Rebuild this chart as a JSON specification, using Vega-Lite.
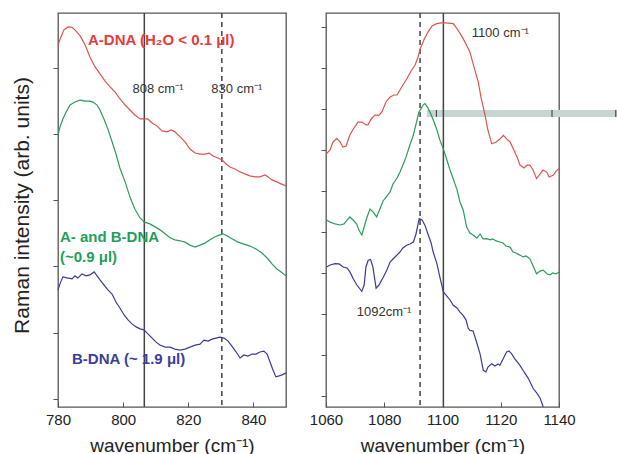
{
  "$schema": "https://vega.github.io/schema/vega-lite/v6.json",
  "autosize": {"type": "pad"},
  "padding": {"left": 10, "top": 11, "right": 0, "bottom": 0},
  "spacing": 18,
  "config": {
    "font": "Liberation Sans",
    "view": {"stroke": "#555", "strokeWidth": 1.3},
    "axis": {
      "grid": false, "domain": false, "tickColor": "#555", "labelColor": "#222", "titleColor": "#222", "labelFlush": false,
      "labelFontSize": 15, "titleFontSize": 19, "titleFontWeight": "normal", "labelFont": "Liberation Sans", "titleFont": "Liberation Sans"
    }
  },
  "datasets": {
    "left": [
      {"w":780,"I":10.93,"s":"A"},{"w":780.6,"I":11.1,"s":"A"},{"w":781.8,"I":11.39,"s":"A"},{"w":783.1,"I":11.48,"s":"A"},{"w":784.3,"I":11.47,"s":"A"},{"w":785.5,"I":11.36,"s":"A"},{"w":786.8,"I":11.21,"s":"A"},{"w":788.3,"I":10.94,"s":"A"},{"w":789.8,"I":10.57,"s":"A"},{"w":791.4,"I":10.27,"s":"A"},{"w":792.9,"I":10.06,"s":"A"},{"w":794.4,"I":9.85,"s":"A"},{"w":796,"I":9.67,"s":"A"},{"w":797.5,"I":9.52,"s":"A"},{"w":799,"I":9.31,"s":"A"},{"w":800.6,"I":9.12,"s":"A"},{"w":802.1,"I":8.97,"s":"A"},{"w":803.6,"I":8.82,"s":"A"},{"w":805.2,"I":8.7,"s":"A"},{"w":806.4,"I":8.7,"s":"A"},{"w":807.6,"I":8.7,"s":"A"},{"w":808.9,"I":8.58,"s":"A"},{"w":810.4,"I":8.49,"s":"A"},{"w":811.9,"I":8.34,"s":"A"},{"w":813.5,"I":8.31,"s":"A"},{"w":814.7,"I":8.37,"s":"A"},{"w":815.9,"I":8.31,"s":"A"},{"w":817.5,"I":8.16,"s":"A"},{"w":819,"I":8.01,"s":"A"},{"w":820.5,"I":7.79,"s":"A"},{"w":822.1,"I":7.67,"s":"A"},{"w":823.6,"I":7.64,"s":"A"},{"w":825.1,"I":7.64,"s":"A"},{"w":826.4,"I":7.67,"s":"A"},{"w":827.6,"I":7.58,"s":"A"},{"w":829.1,"I":7.52,"s":"A"},{"w":830.4,"I":7.46,"s":"A"},{"w":831.6,"I":7.34,"s":"A"},{"w":832.8,"I":7.25,"s":"A"},{"w":834.3,"I":7.19,"s":"A"},{"w":835.9,"I":7.1,"s":"A"},{"w":837.4,"I":7.04,"s":"A"},{"w":838.9,"I":6.98,"s":"A"},{"w":840.5,"I":6.95,"s":"A"},{"w":842,"I":6.95,"s":"A"},{"w":843.6,"I":7.01,"s":"A"},{"w":844.5,"I":6.95,"s":"A"},{"w":845.7,"I":6.86,"s":"A"},{"w":847.2,"I":6.8,"s":"A"},{"w":848.5,"I":6.74,"s":"A"},{"w":850,"I":6.68,"s":"A"},
      {"w":780,"I":8.22,"s":"AB"},{"w":780.6,"I":8.46,"s":"AB"},{"w":781.5,"I":8.7,"s":"AB"},{"w":782.5,"I":8.91,"s":"AB"},{"w":783.7,"I":9.12,"s":"AB"},{"w":785.2,"I":9.21,"s":"AB"},{"w":786.8,"I":9.27,"s":"AB"},{"w":788.3,"I":9.24,"s":"AB"},{"w":789.8,"I":9.24,"s":"AB"},{"w":790.7,"I":9.21,"s":"AB"},{"w":792,"I":9.12,"s":"AB"},{"w":792.9,"I":8.97,"s":"AB"},{"w":794.1,"I":8.7,"s":"AB"},{"w":795.4,"I":8.37,"s":"AB"},{"w":796.6,"I":8.01,"s":"AB"},{"w":797.8,"I":7.64,"s":"AB"},{"w":799,"I":7.22,"s":"AB"},{"w":800.6,"I":6.8,"s":"AB"},{"w":802.1,"I":6.34,"s":"AB"},{"w":803.6,"I":5.98,"s":"AB"},{"w":805.2,"I":5.71,"s":"AB"},{"w":806.4,"I":5.59,"s":"AB"},{"w":808.2,"I":5.53,"s":"AB"},{"w":809.8,"I":5.44,"s":"AB"},{"w":811.3,"I":5.35,"s":"AB"},{"w":812.9,"I":5.23,"s":"AB"},{"w":814.4,"I":5.11,"s":"AB"},{"w":815.9,"I":5.05,"s":"AB"},{"w":817.5,"I":5.02,"s":"AB"},{"w":819,"I":4.98,"s":"AB"},{"w":820.5,"I":4.89,"s":"AB"},{"w":822.1,"I":4.83,"s":"AB"},{"w":823.6,"I":4.89,"s":"AB"},{"w":825.1,"I":4.95,"s":"AB"},{"w":826.7,"I":5.05,"s":"AB"},{"w":828.2,"I":5.14,"s":"AB"},{"w":829.7,"I":5.2,"s":"AB"},{"w":830.7,"I":5.23,"s":"AB"},{"w":831.9,"I":5.17,"s":"AB"},{"w":833.4,"I":5.08,"s":"AB"},{"w":835.3,"I":4.98,"s":"AB"},{"w":837.1,"I":4.92,"s":"AB"},{"w":839,"I":4.86,"s":"AB"},{"w":840.8,"I":4.77,"s":"AB"},{"w":842.6,"I":4.65,"s":"AB"},{"w":844.2,"I":4.5,"s":"AB"},{"w":845.7,"I":4.32,"s":"AB"},{"w":847.2,"I":4.17,"s":"AB"},{"w":848.5,"I":4.08,"s":"AB"},{"w":850,"I":3.96,"s":"AB"},
      {"w":780,"I":3.53,"s":"B"},{"w":780.6,"I":3.72,"s":"B"},{"w":781.5,"I":3.93,"s":"B"},{"w":782.8,"I":3.9,"s":"B"},{"w":784.3,"I":3.87,"s":"B"},{"w":785.2,"I":3.96,"s":"B"},{"w":786.1,"I":3.9,"s":"B"},{"w":787.4,"I":4.02,"s":"B"},{"w":788.6,"I":3.96,"s":"B"},{"w":789.8,"I":3.99,"s":"B"},{"w":791.1,"I":4.08,"s":"B"},{"w":792,"I":3.96,"s":"B"},{"w":792.9,"I":3.84,"s":"B"},{"w":794.1,"I":3.69,"s":"B"},{"w":795.4,"I":3.53,"s":"B"},{"w":796.6,"I":3.41,"s":"B"},{"w":797.8,"I":3.17,"s":"B"},{"w":799,"I":2.99,"s":"B"},{"w":800.3,"I":2.78,"s":"B"},{"w":801.5,"I":2.63,"s":"B"},{"w":802.7,"I":2.51,"s":"B"},{"w":804,"I":2.42,"s":"B"},{"w":805.2,"I":2.36,"s":"B"},{"w":806.4,"I":2.33,"s":"B"},{"w":807.6,"I":2.21,"s":"B"},{"w":808.9,"I":2.08,"s":"B"},{"w":810.1,"I":1.96,"s":"B"},{"w":811.3,"I":1.87,"s":"B"},{"w":812.9,"I":1.81,"s":"B"},{"w":814.4,"I":1.81,"s":"B"},{"w":815.9,"I":1.75,"s":"B"},{"w":817.5,"I":1.72,"s":"B"},{"w":819,"I":1.75,"s":"B"},{"w":820.5,"I":1.81,"s":"B"},{"w":822.1,"I":1.87,"s":"B"},{"w":823.6,"I":1.9,"s":"B"},{"w":824.8,"I":2.02,"s":"B"},{"w":826.1,"I":1.99,"s":"B"},{"w":827.3,"I":2.05,"s":"B"},{"w":828.5,"I":2.08,"s":"B"},{"w":829.7,"I":2.11,"s":"B"},{"w":831,"I":2.08,"s":"B"},{"w":832.2,"I":1.99,"s":"B"},{"w":833.4,"I":1.84,"s":"B"},{"w":834.7,"I":1.66,"s":"B"},{"w":835.9,"I":1.48,"s":"B"},{"w":837.1,"I":1.57,"s":"B"},{"w":838.3,"I":1.54,"s":"B"},{"w":839.6,"I":1.6,"s":"B"},{"w":840.8,"I":1.6,"s":"B"},{"w":842,"I":1.66,"s":"B"},{"w":843.2,"I":1.69,"s":"B"},{"w":844.2,"I":1.6,"s":"B"},{"w":845.1,"I":1.36,"s":"B"},{"w":846,"I":1.12,"s":"B"},{"w":846.9,"I":0.91,"s":"B"},{"w":847.9,"I":0.94,"s":"B"},{"w":848.8,"I":0.97,"s":"B"},{"w":850,"I":1.03,"s":"B"}
    ],
    "right": [
      {"w":1060.2,"I":12.36,"s":"A"},{"w":1061.4,"I":12.54,"s":"A"},{"w":1062.4,"I":12.93,"s":"A"},{"w":1063.7,"I":13.09,"s":"A"},{"w":1064.8,"I":12.93,"s":"A"},{"w":1065.8,"I":12.68,"s":"A"},{"w":1066.9,"I":12.73,"s":"A"},{"w":1068.2,"I":13.27,"s":"A"},{"w":1069.6,"I":13.61,"s":"A"},{"w":1071,"I":13.9,"s":"A"},{"w":1072.4,"I":13.9,"s":"A"},{"w":1073.7,"I":13.76,"s":"A"},{"w":1074.4,"I":13.76,"s":"A"},{"w":1075.5,"I":14.05,"s":"A"},{"w":1076.8,"I":14.24,"s":"A"},{"w":1078.2,"I":14.24,"s":"A"},{"w":1079.2,"I":14.39,"s":"A"},{"w":1080.6,"I":14.88,"s":"A"},{"w":1082,"I":15.12,"s":"A"},{"w":1083.3,"I":15.22,"s":"A"},{"w":1084.4,"I":15.22,"s":"A"},{"w":1085.8,"I":15.56,"s":"A"},{"w":1087.7,"I":16.0,"s":"A"},{"w":1089.2,"I":16.39,"s":"A"},{"w":1090.6,"I":16.68,"s":"A"},{"w":1091.6,"I":17.07,"s":"A"},{"w":1092.3,"I":17.46,"s":"A"},{"w":1093.6,"I":17.9,"s":"A"},{"w":1095,"I":18.29,"s":"A"},{"w":1096.4,"I":18.59,"s":"A"},{"w":1098,"I":18.7,"s":"A"},{"w":1100.3,"I":18.75,"s":"A"},{"w":1101.9,"I":18.73,"s":"A"},{"w":1103.7,"I":18.7,"s":"A"},{"w":1105.3,"I":18.39,"s":"A"},{"w":1107.1,"I":17.97,"s":"A"},{"w":1108.4,"I":17.61,"s":"A"},{"w":1109.4,"I":17.32,"s":"A"},{"w":1110.8,"I":16.59,"s":"A"},{"w":1112.3,"I":15.85,"s":"A"},{"w":1113.2,"I":15.12,"s":"A"},{"w":1114.6,"I":14.24,"s":"A"},{"w":1115.6,"I":13.51,"s":"A"},{"w":1116.9,"I":12.84,"s":"A"},{"w":1118.4,"I":12.93,"s":"A"},{"w":1119.7,"I":13.07,"s":"A"},{"w":1120.9,"I":13.25,"s":"A"},{"w":1122.1,"I":13.07,"s":"A"},{"w":1123.2,"I":12.93,"s":"A"},{"w":1124.3,"I":12.6,"s":"A"},{"w":1125.6,"I":12.2,"s":"A"},{"w":1126.6,"I":11.8,"s":"A"},{"w":1128,"I":11.66,"s":"A"},{"w":1129,"I":11.8,"s":"A"},{"w":1130,"I":11.8,"s":"A"},{"w":1131.1,"I":11.56,"s":"A"},{"w":1132.3,"I":11.14,"s":"A"},{"w":1133.5,"I":11.37,"s":"A"},{"w":1134.5,"I":11.56,"s":"A"},{"w":1135.8,"I":11.46,"s":"A"},{"w":1136.6,"I":11.22,"s":"A"},{"w":1138.1,"I":11.32,"s":"A"},{"w":1139,"I":11.51,"s":"A"},{"w":1140,"I":11.62,"s":"A"},
      {"w":1060.2,"I":9.12,"s":"AB"},{"w":1061.4,"I":9.02,"s":"AB"},{"w":1063.1,"I":8.93,"s":"AB"},{"w":1064.8,"I":8.88,"s":"AB"},{"w":1066.2,"I":8.93,"s":"AB"},{"w":1067.2,"I":9.12,"s":"AB"},{"w":1068.2,"I":9.27,"s":"AB"},{"w":1069.3,"I":9.12,"s":"AB"},{"w":1070.5,"I":8.94,"s":"AB"},{"w":1071.3,"I":8.63,"s":"AB"},{"w":1072.3,"I":8.39,"s":"AB"},{"w":1073.1,"I":8.78,"s":"AB"},{"w":1074.1,"I":9.27,"s":"AB"},{"w":1075.1,"I":9.66,"s":"AB"},{"w":1076.2,"I":9.51,"s":"AB"},{"w":1077.4,"I":9.27,"s":"AB"},{"w":1078.5,"I":9.66,"s":"AB"},{"w":1079.6,"I":10.05,"s":"AB"},{"w":1080.9,"I":10.29,"s":"AB"},{"w":1082,"I":10.49,"s":"AB"},{"w":1083,"I":10.88,"s":"AB"},{"w":1084.4,"I":11.17,"s":"AB"},{"w":1085.4,"I":11.46,"s":"AB"},{"w":1086.4,"I":11.8,"s":"AB"},{"w":1087.5,"I":12.2,"s":"AB"},{"w":1088.8,"I":12.78,"s":"AB"},{"w":1090,"I":13.27,"s":"AB"},{"w":1090.9,"I":13.8,"s":"AB"},{"w":1091.9,"I":14.39,"s":"AB"},{"w":1092.6,"I":14.54,"s":"AB"},{"w":1093.3,"I":14.73,"s":"AB"},{"w":1094,"I":14.8,"s":"AB"},{"w":1095,"I":14.59,"s":"AB"},{"w":1096,"I":14.29,"s":"AB"},{"w":1097.1,"I":13.9,"s":"AB"},{"w":1098.1,"I":13.51,"s":"AB"},{"w":1099.1,"I":13.02,"s":"AB"},{"w":1100.3,"I":12.59,"s":"AB"},{"w":1101.5,"I":12.05,"s":"AB"},{"w":1102.6,"I":11.56,"s":"AB"},{"w":1103.7,"I":11.12,"s":"AB"},{"w":1105,"I":10.59,"s":"AB"},{"w":1106,"I":10.0,"s":"AB"},{"w":1107.1,"I":9.61,"s":"AB"},{"w":1108.3,"I":8.78,"s":"AB"},{"w":1109.4,"I":8.49,"s":"AB"},{"w":1110.5,"I":8.39,"s":"AB"},{"w":1111.8,"I":8.24,"s":"AB"},{"w":1112.9,"I":8.44,"s":"AB"},{"w":1113.9,"I":8.2,"s":"AB"},{"w":1115.2,"I":8.21,"s":"AB"},{"w":1116.3,"I":8.15,"s":"AB"},{"w":1117.3,"I":8.2,"s":"AB"},{"w":1118.4,"I":8.1,"s":"AB"},{"w":1119.7,"I":8.05,"s":"AB"},{"w":1120.8,"I":8.0,"s":"AB"},{"w":1121.8,"I":7.85,"s":"AB"},{"w":1123.2,"I":7.8,"s":"AB"},{"w":1124.2,"I":7.56,"s":"AB"},{"w":1125.2,"I":7.51,"s":"AB"},{"w":1126.6,"I":7.41,"s":"AB"},{"w":1127.6,"I":7.32,"s":"AB"},{"w":1128.7,"I":7.37,"s":"AB"},{"w":1130,"I":7.23,"s":"AB"},{"w":1131.1,"I":6.88,"s":"AB"},{"w":1132.3,"I":6.5,"s":"AB"},{"w":1133.5,"I":6.63,"s":"AB"},{"w":1134.6,"I":6.68,"s":"AB"},{"w":1135.9,"I":6.49,"s":"AB"},{"w":1136.9,"I":6.45,"s":"AB"},{"w":1137.9,"I":6.54,"s":"AB"},{"w":1139,"I":6.49,"s":"AB"},{"w":1140,"I":6.59,"s":"AB"},
      {"w":1060.2,"I":6.83,"s":"B"},{"w":1061.4,"I":6.93,"s":"B"},{"w":1063.1,"I":6.99,"s":"B"},{"w":1064.5,"I":6.98,"s":"B"},{"w":1065.9,"I":6.83,"s":"B"},{"w":1067.2,"I":6.78,"s":"B"},{"w":1068.2,"I":6.59,"s":"B"},{"w":1069.4,"I":6.24,"s":"B"},{"w":1070.6,"I":5.95,"s":"B"},{"w":1072.3,"I":5.64,"s":"B"},{"w":1073.1,"I":5.95,"s":"B"},{"w":1073.7,"I":6.83,"s":"B"},{"w":1074.5,"I":7.16,"s":"B"},{"w":1075.3,"I":7.2,"s":"B"},{"w":1076.1,"I":6.83,"s":"B"},{"w":1077.2,"I":5.8,"s":"B"},{"w":1078.2,"I":5.95,"s":"B"},{"w":1079.7,"I":6.34,"s":"B"},{"w":1080.9,"I":6.68,"s":"B"},{"w":1082,"I":7.07,"s":"B"},{"w":1083,"I":7.22,"s":"B"},{"w":1084.3,"I":7.4,"s":"B"},{"w":1085.4,"I":7.56,"s":"B"},{"w":1086.4,"I":7.76,"s":"B"},{"w":1087.7,"I":7.89,"s":"B"},{"w":1088.8,"I":7.95,"s":"B"},{"w":1090,"I":8.05,"s":"B"},{"w":1090.9,"I":8.44,"s":"B"},{"w":1092,"I":9.19,"s":"B"},{"w":1093,"I":9.12,"s":"B"},{"w":1094,"I":8.86,"s":"B"},{"w":1095,"I":8.44,"s":"B"},{"w":1096.1,"I":8.0,"s":"B"},{"w":1096.8,"I":7.56,"s":"B"},{"w":1098.1,"I":6.98,"s":"B"},{"w":1099.1,"I":6.34,"s":"B"},{"w":1100.3,"I":5.61,"s":"B"},{"w":1101.5,"I":5.41,"s":"B"},{"w":1102.6,"I":5.22,"s":"B"},{"w":1103.7,"I":4.96,"s":"B"},{"w":1105,"I":4.83,"s":"B"},{"w":1106,"I":4.63,"s":"B"},{"w":1107.1,"I":4.47,"s":"B"},{"w":1108.1,"I":4.24,"s":"B"},{"w":1108.8,"I":3.85,"s":"B"},{"w":1109.4,"I":3.74,"s":"B"},{"w":1110.5,"I":3.71,"s":"B"},{"w":1111.7,"I":3.17,"s":"B"},{"w":1112.9,"I":2.59,"s":"B"},{"w":1114,"I":1.79,"s":"B"},{"w":1114.9,"I":1.71,"s":"B"},{"w":1115.6,"I":1.95,"s":"B"},{"w":1116.9,"I":2.11,"s":"B"},{"w":1118,"I":2.0,"s":"B"},{"w":1119.1,"I":2.1,"s":"B"},{"w":1119.7,"I":2.03,"s":"B"},{"w":1120.8,"I":2.34,"s":"B"},{"w":1122,"I":2.68,"s":"B"},{"w":1122.8,"I":2.73,"s":"B"},{"w":1123.7,"I":2.6,"s":"B"},{"w":1124.9,"I":2.34,"s":"B"},{"w":1126.6,"I":2.03,"s":"B"},{"w":1128,"I":1.71,"s":"B"},{"w":1129.4,"I":1.41,"s":"B"},{"w":1130.4,"I":1.12,"s":"B"},{"w":1131.2,"I":0.89,"s":"B"},{"w":1132.4,"I":0.68,"s":"B"},{"w":1133.5,"I":0.44,"s":"B"},{"w":1134.6,"I":0.0,"s":"B"}
    ]
  },
  "hconcat": [
    {
      "width": 228, "height": 394,
      "layer": [
        {
          "data": {"values": [{"w": 806.5, "d": "solid"}, {"w": 830.3, "d": "dash"}]},
          "mark": {"type": "rule", "color": "#444", "strokeWidth": 1.5},
          "encoding": {
            "x": {"field": "w", "type": "quantitative", "scale": {"domain": [780, 850], "nice": false, "zero": false}},
            "strokeDash": {"field": "d", "type": "nominal", "scale": {"domain": ["solid", "dash"], "range": [[1, 0], [5, 4]]}, "legend": null}
          }
        },
        {
          "data": {"name": "left"},
          "mark": {"type": "line", "strokeWidth": 1.2},
          "encoding": {
            "x": {"field": "w", "type": "quantitative", "scale": {"domain": [780, 850], "nice": false, "zero": false},
              "axis": {"title": "wavenumber (cm⁻¹)", "values": [780, 790, 800, 810, 820, 830, 840, 850], "labelExpr": "datum.value % 20 == 0 ? '' + datum.value : ''", "tickSize": -5, "labelPadding": 10, "titlePadding": 9}},
            "y": {"field": "I", "type": "quantitative", "scale": {"domain": [0, 11.9], "nice": false, "zero": false},
              "axis": {"title": "Raman intensity (arb. units)", "titleFontSize": 21, "titleY": 192, "labels": false, "tickSize": 5, "titlePadding": 20,
                "values": [0.25, 0.75, 1.25, 1.75, 2.25, 2.75, 3.25, 3.75, 4.25, 4.75, 5.25, 5.75, 6.25, 6.75, 7.25, 7.75, 8.25, 8.75, 9.25, 9.75, 10.25, 10.75, 11.25, 11.75]}},
            "color": {"field": "s", "type": "nominal", "legend": null,
              "scale": {"domain": ["A", "AB", "B", "tA", "tAB", "tB"], "range": ["#e0534f", "#2b9c5c", "#3a3c98", "#e63c3c", "#1e9f5c", "#3b3e98"]}}
          }
        },
        {
          "data": {"values": [
            {"w": 789.2, "I": 11.09, "t": "A-DNA (H₂O < 0.1 μl)", "s": "tA"},
            {"w": 780.6, "I": 5.14, "t": "A- and B-DNA", "s": "tAB"},
            {"w": 780.6, "I": 4.53, "t": "(~0.9 μl)", "s": "tAB"},
            {"w": 784.3, "I": 1.45, "t": "B-DNA (~ 1.9 μl)", "s": "tB"}
          ]},
          "mark": {"type": "text", "fontSize": 15, "fontWeight": "bold", "align": "left", "baseline": "middle"},
          "encoding": {
            "x": {"field": "w", "type": "quantitative"},
            "y": {"field": "I", "type": "quantitative"},
            "text": {"field": "t"},
            "color": {"field": "s", "type": "nominal", "legend": null}
          }
        },
        {
          "data": {"values": [
            {"w": 810.7, "I": 9.61, "t": "808 cm⁻¹"},
            {"w": 834.9, "I": 9.61, "t": "830 cm⁻¹"}
          ]},
          "mark": {"type": "text", "fontSize": 13, "align": "center", "baseline": "middle", "color": "#333"},
          "encoding": {
            "x": {"field": "w", "type": "quantitative"},
            "y": {"field": "I", "type": "quantitative"},
            "text": {"field": "t"}
          }
        }
      ]
    },
    {
      "width": 233, "height": 394,
      "layer": [
        {
          "data": {"values": [{"w1": 1094.6, "w2": 1160, "y1": 14.15, "y2": 14.49}]},
          "mark": {"type": "rect", "color": "#c6d5d1"},
          "encoding": {
            "x": {"field": "w1", "type": "quantitative", "scale": {"domain": [1060, 1140], "nice": false, "zero": false}},
            "x2": {"field": "w2"},
            "y": {"field": "y1", "type": "quantitative", "scale": {"domain": [0, 19.22], "nice": false, "zero": false}},
            "y2": {"field": "y2"}
          }
        },
        {
          "data": {"values": [{"w": 1097.9, "y1": 14.15, "y2": 14.49}, {"w": 1137.6, "y1": 14.15, "y2": 14.49}, {"w": 1159.5, "y1": 14.15, "y2": 14.49}]},
          "mark": {"type": "rule", "color": "#333", "strokeWidth": 1},
          "encoding": {
            "x": {"field": "w", "type": "quantitative"},
            "y": {"field": "y1", "type": "quantitative"},
            "y2": {"field": "y2"}
          }
        },
        {
          "data": {"values": [{"w": 1092.3, "d": "dash"}, {"w": 1100.3, "d": "solid"}]},
          "mark": {"type": "rule", "color": "#444", "strokeWidth": 1.5},
          "encoding": {
            "x": {"field": "w", "type": "quantitative"},
            "strokeDash": {"field": "d", "type": "nominal", "legend": null}
          }
        },
        {
          "data": {"name": "right"},
          "mark": {"type": "line", "strokeWidth": 1.2},
          "encoding": {
            "x": {"field": "w", "type": "quantitative",
              "axis": {"title": "wavenumber (cm⁻¹)", "values": [1060, 1070, 1080, 1090, 1100, 1110, 1120, 1130, 1140], "labelExpr": "datum.value % 20 == 0 ? '' + datum.value : ''", "tickSize": -5, "labelPadding": 10, "titlePadding": 9}},
            "y": {"field": "I", "type": "quantitative",
              "axis": {"title": null, "labels": false, "tickSize": 5,
                "values": [0.55, 1.55, 2.55, 3.55, 4.55, 5.55, 6.55, 7.55, 8.55, 9.55, 10.55, 11.55, 12.55, 13.55, 14.55, 15.55, 16.55, 17.55, 18.55]}},
            "color": {"field": "s", "type": "nominal", "legend": null}
          }
        },
        {
          "data": {"values": [
            {"w": 1110.0, "I": 18.24, "t": "1100 cm⁻¹"},
            {"w": 1070.6, "I": 4.63, "t": "1092cm⁻¹"}
          ]},
          "mark": {"type": "text", "fontSize": 13, "align": "left", "baseline": "middle", "color": "#333"},
          "encoding": {
            "x": {"field": "w", "type": "quantitative"},
            "y": {"field": "I", "type": "quantitative"},
            "text": {"field": "t"}
          }
        }
      ]
    }
  ]
}
